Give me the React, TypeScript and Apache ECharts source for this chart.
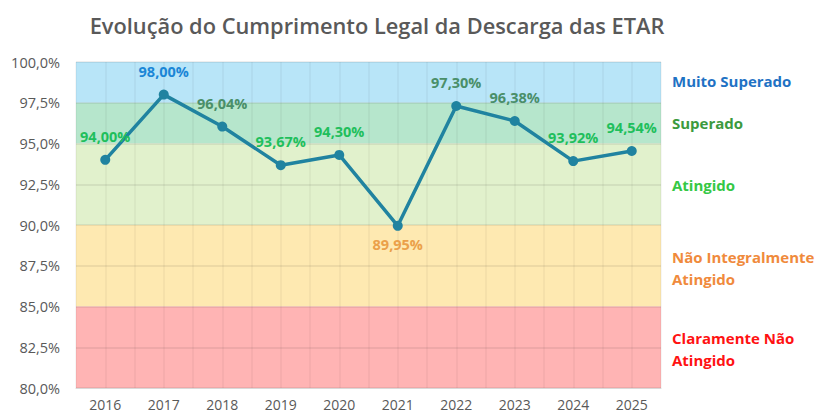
import React, { useEffect, useRef } from "react";
import * as echarts from "echarts";

const years = ["2016", "2017", "2018", "2019", "2020", "2021", "2022", "2023", "2024", "2025"];
const values = [94.0, 98.0, 96.04, 93.67, 94.3, 89.95, 97.3, 96.38, 93.92, 94.54];
const bands = [
  { from: 97.5, to: 100, color: "#b8e5f8", label: "Muito Superado", text: "#1f72c4", dy: -12 },
  { from: 95, to: 97.5, color: "#b6e6cc", label: "Superado", text: "#3c9a3e", dy: -11 },
  { from: 90, to: 95, color: "#e1f1cc", label: "Atingido", text: "#35c845", dy: -10 },
  { from: 85, to: 90, color: "#fee9b1", label: "Não Integralmente\nAtingido", text: "#f08a3c", dy: -20 },
  { from: 80, to: 85, color: "#ffb4b4", label: "Claramente Não\nAtingido", text: "#ff1212", dy: -20 },
];
const labelColors = ["#1fbf5c", "#1b86d6", "#4a8f69", "#1fbf5c", "#1fbf5c", "#eba04a", "#4a8f69", "#4a8f69", "#1fbf5c", "#1fbf5c"];

const FONT = "'Open Sans', 'Noto Sans', sans-serif";

export default function App() {
  const ref = useRef<HTMLDivElement>(null);
  useEffect(() => {
    document.body.style.margin = "0";
    const chart = echarts.init(ref.current!, undefined, { renderer: "svg" });
    const grid = { left: 76, right: 155, top: 62, bottom: 26 };
    const plotH = 414 - grid.top - grid.bottom;
    const yPix = (v: number) => grid.top + ((100 - v) / 20) * plotH;
    chart.setOption({
      animation: false,
      textStyle: { fontFamily: FONT },
      title: {
        text: "Evolução do Cumprimento Legal da Descarga das ETAR",
        left: 372,
        textAlign: "center",
        top: 9,
        textStyle: { fontSize: 21.8, fontWeight: 600, color: "#595959", fontFamily: FONT },
      },
      grid,
      xAxis: [
        {
          type: "category",
          data: years,
          boundaryGap: true,
          axisLine: { show: true, lineStyle: { color: "#d9d9d9" } },
          axisTick: { show: false },
          axisLabel: { color: "#595959", fontSize: 14, margin: 9 },
          splitLine: { show: false },
          z: 2,
        },
        {
          type: "category",
          data: Array.from({ length: years.length * 2 }, (_, i) => String(i)),
          boundaryGap: true,
          position: "bottom",
          axisLine: { show: false },
          axisTick: { show: false },
          axisLabel: { show: false },
          splitLine: { show: true, lineStyle: { color: "rgba(0,0,0,0.05)", width: 1.5 } },
          z: 2,
        },
      ],
      yAxis: {
        type: "value",
        min: 80,
        max: 100,
        interval: 2.5,
        axisLine: { show: false },
        axisTick: { show: false },
        axisLabel: {
          color: "#595959",
          fontSize: 14.5,
          margin: 16,
          formatter: (v: number) => v.toFixed(1).replace(".", ",") + "%",
        },
        splitLine: { show: true, lineStyle: { color: "rgba(0,0,0,0.09)", width: 1.5 } },
        z: 2,
      },
      series: [
        {
          type: "line",
          data: [],
          z: 1,
          silent: true,
          markArea: {
            silent: true,
            data: bands.map((b) => [
              { yAxis: b.from, itemStyle: { color: b.color } },
              { yAxis: b.to },
            ]),
          },
        },
        {
          type: "line",
          data: values.map((v, i) => ({
            value: v,
            label: {
              position: i === 5 ? "bottom" : "top",
              distance: i === 5 ? 6 : 11,
              color: labelColors[i],
            },
          })),
          z: 3,
          symbol: "circle",
          symbolSize: 10,
          lineStyle: { color: "#2083a0", width: 3.5 },
          itemStyle: { color: "#2083a0" },
          label: {
            show: true,
            fontSize: 14.5,
            fontWeight: "bold",
            fontFamily: FONT,
            formatter: (p: any) => p.value.toFixed(2).replace(".", ",") + "%",
          },
        },
      ],
      graphic: bands.map((b) => ({
        type: "text",
        left: 672,
        top: yPix((b.from + b.to) / 2) + b.dy,
        style: {
          text: b.label,
          fill: b.text,
          font: `bold 15px ${FONT}`,
          lineHeight: 22,
        },
      })),
    });
    return () => chart.dispose();
  }, []);
  return <div ref={ref} style={{ width: 816, height: 414 }} />;
}
